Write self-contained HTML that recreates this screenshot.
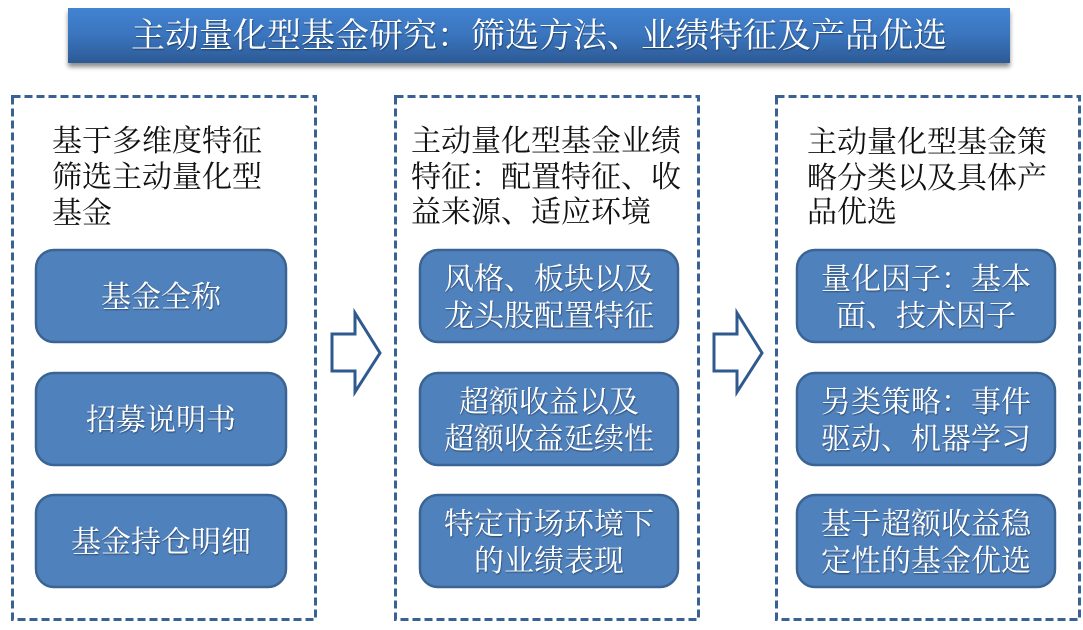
<!DOCTYPE html>
<html>
<head>
<meta charset="utf-8">
<style>
  html,body{margin:0;padding:0;background:#fff;}
  svg{display:block;}
  .hd{font-family:"Liberation Serif","Noto Serif CJK SC",serif;font-size:30px;fill:#111;}
  .bt{font-family:"Liberation Serif","Noto Serif CJK SC",serif;font-size:30px;fill:#fff;text-anchor:middle;}
  .tt{font-family:"Liberation Serif","Noto Serif CJK SC",serif;font-size:34px;fill:#fff;text-anchor:middle;}
</style>
</head>
<body>
<svg width="1083" height="630" viewBox="0 0 1083 630" xmlns="http://www.w3.org/2000/svg">
  <defs>
    <linearGradient id="tg" x1="0" y1="0" x2="0" y2="1">
      <stop offset="0" stop-color="#4283d2"/>
      <stop offset="0.5" stop-color="#3a74bd"/>
      <stop offset="1" stop-color="#2c5a95"/>
    </linearGradient>
    <filter id="sh" x="-5%" y="-20%" width="110%" height="160%">
      <feGaussianBlur in="SourceAlpha" stdDeviation="2.5"/>
      <feOffset dx="0" dy="4" result="b"/>
      <feComponentTransfer><feFuncA type="linear" slope="0.45"/></feComponentTransfer>
      <feMerge><feMergeNode/><feMergeNode in="SourceGraphic"/></feMerge>
    </filter>
    <filter id="ts" x="-5%" y="-20%" width="110%" height="140%">
      <feGaussianBlur in="SourceAlpha" stdDeviation="0.8"/>
      <feOffset dx="0.5" dy="1" result="b"/>
      <feComponentTransfer><feFuncA type="linear" slope="0.5"/></feComponentTransfer>
      <feMerge><feMergeNode/><feMergeNode in="SourceGraphic"/></feMerge>
    </filter>
  </defs>

  <!-- Title bar -->
  <rect x="68" y="8" width="942" height="55" fill="url(#tg)" filter="url(#sh)"/>
  <text class="tt" x="539" y="47" filter="url(#ts)">主动量化型基金研究：筛选方法、业绩特征及产品优选</text>

  <!-- Dashed containers -->
  <g fill="none" stroke="#3a6193" stroke-width="3" stroke-dasharray="8 4">
    <rect x="12.5" y="96.5" width="303" height="523"/>
    <rect x="395.5" y="96.5" width="303" height="523"/>
    <rect x="776.5" y="96.5" width="303" height="523"/>
  </g>

  <!-- Headings -->
  <text class="hd" x="52" y="151">基于多维度特征</text>
  <text class="hd" x="52" y="187">筛选主动量化型</text>
  <text class="hd" x="52" y="223">基金</text>

  <text class="hd" x="411" y="151">主动量化型基金业绩</text>
  <text class="hd" x="411" y="187">特征：配置特征、收</text>
  <text class="hd" x="411" y="222">益来源、适应环境</text>

  <text class="hd" x="807" y="152">主动量化型基金策</text>
  <text class="hd" x="807" y="188">略分类以及具体产</text>
  <text class="hd" x="807" y="222">品优选</text>

  <!-- Blue boxes -->
  <g fill="#4f81bd" stroke="#3b6494" stroke-width="2.5">
    <rect x="36" y="250" width="250" height="92" rx="18"/>
    <rect x="36" y="373" width="250" height="92" rx="18"/>
    <rect x="36" y="495" width="250" height="92" rx="18"/>

    <rect x="420" y="250" width="258" height="92" rx="18"/>
    <rect x="420" y="373" width="258" height="92" rx="18"/>
    <rect x="420" y="495" width="258" height="92" rx="18"/>

    <rect x="797" y="250" width="258" height="92" rx="18"/>
    <rect x="797" y="373" width="258" height="92" rx="18"/>
    <rect x="797" y="495" width="258" height="92" rx="18"/>
  </g>

  <g filter="url(#ts)">
    <text class="bt" x="161" y="307">基金全称</text>
    <text class="bt" x="161" y="430">招募说明书</text>
    <text class="bt" x="161" y="552">基金持仓明细</text>

    <text class="bt" x="549" y="289">风格、板块以及</text>
    <text class="bt" x="549" y="326">龙头股配置特征</text>
    <text class="bt" x="549" y="412">超额收益以及</text>
    <text class="bt" x="549" y="449">超额收益延续性</text>
    <text class="bt" x="549" y="534">特定市场环境下</text>
    <text class="bt" x="549" y="571">的业绩表现</text>

    <text class="bt" x="926" y="289">量化因子：基本</text>
    <text class="bt" x="926" y="326">面、技术因子</text>
    <text class="bt" x="926" y="412">另类策略：事件</text>
    <text class="bt" x="926" y="449">驱动、机器学习</text>
    <text class="bt" x="926" y="534">基于超额收益稳</text>
    <text class="bt" x="926" y="571">定性的基金优选</text>
  </g>

  <!-- Arrows -->
  <g fill="#fff" stroke="#2f5a8f" stroke-width="3" stroke-linejoin="miter">
    <polygon points="332,334 355,334 355,313 380,353 355,392 355,371 332,371"/>
    <polygon points="714,334 737,334 737,313 762,353 737,392 737,371 714,371"/>
  </g>
</svg>
</body>
</html>
